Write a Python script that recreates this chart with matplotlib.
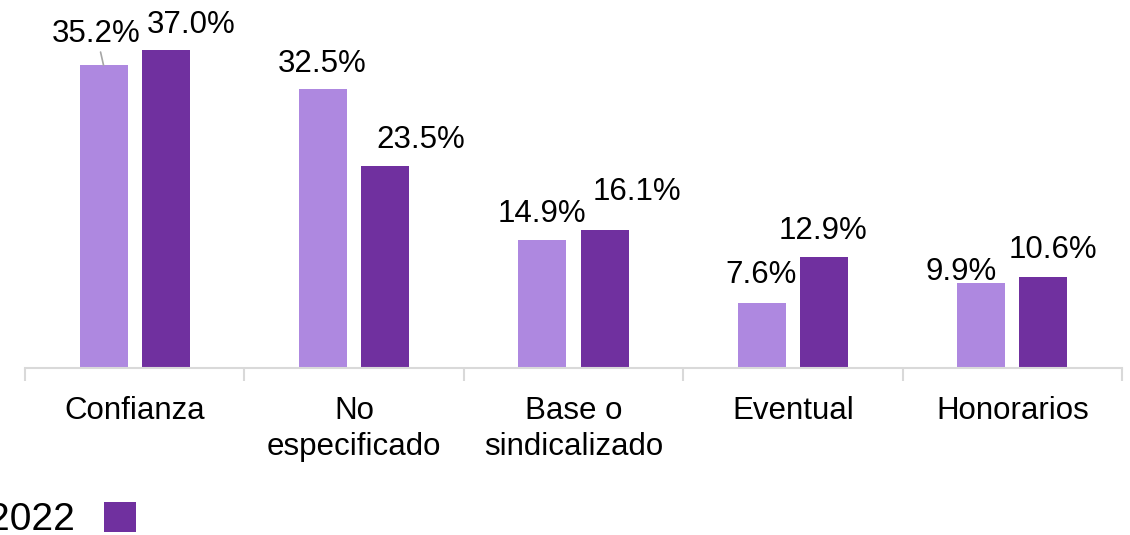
import numpy as np
import matplotlib.pyplot as plt

plt.rcParams['font.family'] = ['Liberation Sans', 'DejaVu Sans']

categorias = ['Confianza', 'No\nespecificado', 'Base o\nsindicalizado', 'Eventual', 'Honorarios']
anterior = [35.2, 32.5, 14.9, 7.6, 9.9]
actual = [37.0, 23.5, 16.1, 12.9, 10.6]
etiqueta_leyenda = '2022'

# desplazamiento de etiquetas (pixeles) respecto a la parte superior de cada barra
off_anterior = [(-7, 23), (-1, 16.5), (0, 18), (-1, 19.6), (-20, 3)]
off_actual = [(25, 17), (35, 18), (32, 29.5), (-1, 18), (9, 19)]

c_claro = '#AE88E0'
c_oscuro = '#70309F'
fs = 22.5

fig = plt.figure(figsize=(11.3, 5.35), dpi=100)
ax = fig.add_axes([25 / 1130, 167 / 535, 1097 / 1130, 368 / 535])

x = np.arange(len(categorias))
w = 0.219
b1 = ax.bar(x - 0.142, anterior, w, color=c_claro)
b2 = ax.bar(x + 0.142, actual, w, color=c_oscuro, label=etiqueta_leyenda)

ax.set_xlim(-0.5, len(categorias) - 0.5)
ax.set_ylim(0, 368 / 8.6)

for barras, vals, offs in [(b1, anterior, off_anterior), (b2, actual, off_actual)]:
    for b, v, (dx, dy) in zip(barras, vals, offs):
        xc = b.get_x() + b.get_width() / 2
        arrow = None
        if dy > 20 and b in b1:
            # linea guia de la etiqueta desplazada
            arrow = dict(arrowstyle='-', color='#A6A6A6', lw=1.2, shrinkA=0, shrinkB=0)
        ax.annotate(f'{v:.1f}%', xy=(xc, v), xytext=(dx, dy), textcoords='offset pixels',
                    ha='center', va='baseline', fontsize=fs, color='black',
                    arrowprops=arrow, annotation_clip=False)

for s in ['top', 'right', 'left']:
    ax.spines[s].set_visible(False)
ax.spines['bottom'].set_color('#D9D9D9')
ax.spines['bottom'].set_linewidth(1.5)
ax.set_yticks([])
ax.set_xticks(x)
ax.set_xticklabels(categorias, fontsize=fs, va='top', linespacing=1.28)
ax.tick_params(axis='x', which='major', length=0, pad=20)
ax.set_xticks(np.arange(-0.5, len(categorias)), minor=True)
ax.tick_params(axis='x', which='minor', length=9, width=1.5, color='#D9D9D9')

fig.legend(handles=[b2], labels=[etiqueta_leyenda], loc='lower left',
           bbox_to_anchor=(-0.0106, -0.006), frameon=False, fontsize=28,
           markerfirst=False, handlelength=0.82, handleheight=0.82,
           handletextpad=0.75, borderpad=0, borderaxespad=0)

fig.savefig('out.png', dpi=100)
